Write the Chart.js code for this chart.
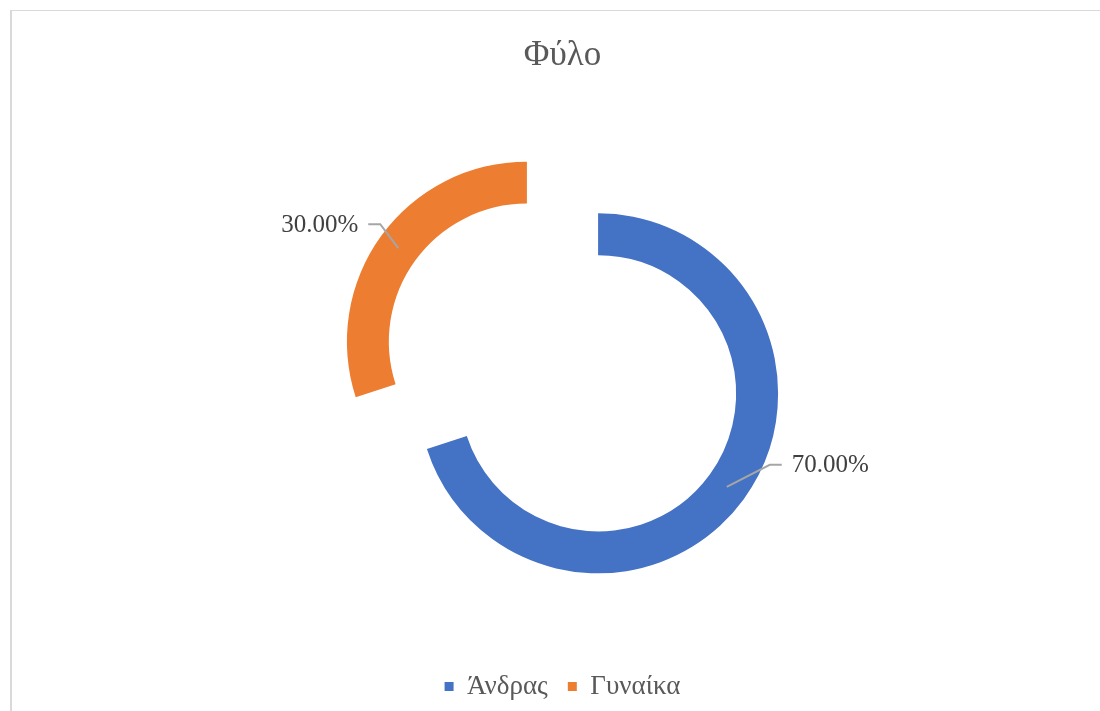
<!DOCTYPE html>
<html>
<head>
<meta charset="utf-8">
<script src="https://cdn.jsdelivr.net/npm/chart.js@4/dist/chart.umd.min.js"></script>
<style>
	html, body { margin: 0; padding: 0; background: #fff; overflow: hidden; }
	#frame {
		position: absolute; left: 10px; top: 10px; width: 1100px; height: 710px;
		border-left: 2px solid #d9d9d9; border-top: 1px solid #d9d9d9;
	}
	#wrap { position: absolute; left: 0; top: 0; width: 1100px; height: 711px; }
</style>
</head>
<body>
<div id="frame"></div>
<div id="wrap"><canvas id="chart"></canvas></div>
<script>
// data
const categories = ['Άνδρας', 'Γυναίκα'];
const shares = [70, 30];
const sliceColors = ['#4472C4', '#ED7D31'];

// look
const SERIF = '"Liberation Serif", "Times New Roman", serif';
const EXPLODE = 44;        // px each slice is pushed out along its mid angle
const RING_OUTER = 180;
const RING_CUTOUT = '76.7%'; // inner radius ~138px
// leader elbow, relative to the middle of the ring at the slice mid angle
const LEADER_ELBOW = [[43, -22], [-18, -24]];
const LEADER_TAIL = 12;
const LABEL_GAP = 10;

// Excel style "point explosion": move every arc outwards after the update
const explodePlugin = {
	id: 'explode',
	afterDatasetUpdate(chart, args) {
		args.meta.data.forEach(arc => {
			const mid = (arc.startAngle + arc.endAngle) / 2;
			arc.x += Math.cos(mid) * EXPLODE;
			arc.y += Math.sin(mid) * EXPLODE;
		});
	}
};

// percentage labels with leader lines
const leaderLabels = {
	id: 'leaderLabels',
	afterDatasetsDraw(chart) {
		const ctx = chart.ctx;
		const meta = chart.getDatasetMeta(0);
		ctx.save();
		ctx.font = '25px ' + SERIF;
		ctx.fillStyle = '#404040';
		ctx.strokeStyle = '#a6a6a6';
		ctx.lineWidth = 2;
		ctx.textBaseline = 'middle';
		meta.data.forEach((arc, i) => {
			const mid = (arc.startAngle + arc.endAngle) / 2;
			const r = (arc.innerRadius + arc.outerRadius) / 2;
			const px = arc.x + Math.cos(mid) * r;
			const py = arc.y + Math.sin(mid) * r;
			const dir = Math.cos(mid) >= 0 ? 1 : -1;
			const ex = px + LEADER_ELBOW[i][0];
			const ey = py + LEADER_ELBOW[i][1];
			const tx = ex + dir * LEADER_TAIL;
			ctx.beginPath();
			ctx.moveTo(px, py);
			ctx.lineTo(ex, ey);
			ctx.lineTo(tx, ey);
			ctx.stroke();
			ctx.textAlign = dir > 0 ? 'left' : 'right';
			ctx.fillText(shares[i].toFixed(2) + '%', tx + dir * LABEL_GAP, ey + 1);
		});
		ctx.restore();
	}
};

new Chart(document.getElementById('chart'), {
	type: 'doughnut',
	data: {
		labels: categories,
		datasets: [{
			data: shares,
			backgroundColor: sliceColors,
			borderWidth: 0
		}]
	},
	options: {
		responsive: true,
		maintainAspectRatio: false,
		animation: false,
		events: [],
		radius: RING_OUTER,
		cutout: RING_CUTOUT,
		layout: { padding: { left: 25, right: 0, top: 0, bottom: 1 } },
		plugins: {
			title: {
				display: true,
				text: 'Φύλο',
				color: '#595959',
				font: { family: SERIF, size: 35, weight: 'normal' },
				padding: { top: 35, bottom: 5 }
			},
			legend: {
				position: 'bottom',
				labels: {
					color: '#595959',
					font: { family: SERIF, size: 27 },
					boxWidth: 9,
					boxHeight: 9,
					padding: 20
				}
			},
			tooltip: { enabled: false }
		}
	},
	plugins: [explodePlugin, leaderLabels]
});
</script>
</body>
</html>
